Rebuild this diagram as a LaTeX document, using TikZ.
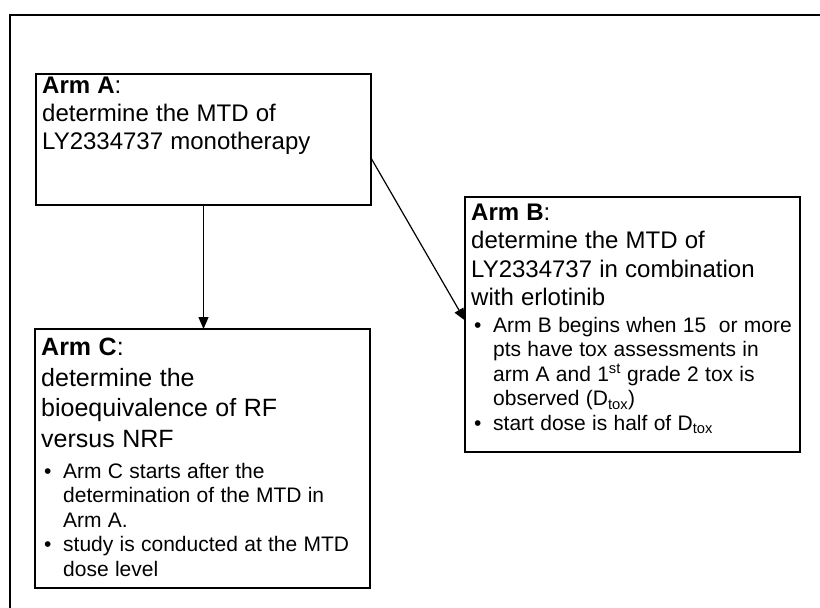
\documentclass[tikz,border=0pt]{standalone}
\usepackage{fontspec}
\setmainfont{Liberation Sans}
\usetikzlibrary{arrows.meta}

\newcommand{\headsize}{\fontsize{24}{28.3}\selectfont\spaceskip=0.3em plus 0.1em\relax}
\newcommand{\headCsize}{\fontsize{25}{30.5}\selectfont\spaceskip=0.3em plus 0.1em\relax}
\newcommand{\bulletsize}{\fontsize{21}{24.5}\selectfont\spaceskip=0.3em plus 0.1em\relax}
% bullet with hanging indent, lines broken by \newline
\newcommand{\armitem}[1]{\par\hangindent=22pt\hangafter=1\noindent\makebox[22pt][l]{\hspace{3pt}\textbullet}#1\par}

\tikzset{
  armbox/.style={draw, line width=1.6pt, inner sep=0pt, outer sep=0pt, anchor=north west},
  armtext/.style={anchor=north west, inner sep=0pt, text width=330pt, align=left},
  armarrow/.style={line width=1.2pt, -{Triangle[length=12pt,width=10pt]}}
}

\begin{document}
\begin{tikzpicture}[x=1pt,y=-1pt]

		\fill[white] (0,0) rectangle (820,608);
		\useasboundingbox (0,0) rectangle (820,608);
		\draw[line width=1.8pt] (10,608) -- (10,15) -- (820,15);

		\node[armbox, minimum width=335pt, minimum height=131pt] (armA) at (36,74) {};
		\node[armtext] (armAtext) at ([xshift=6pt,yshift=-2.5pt]armA.north west)
			{\headsize\textbf{Arm A}:\\determine the MTD of\\LY2334737 monotherapy\par};

		\node[armbox, minimum width=335pt, minimum height=255pt] (armB) at (465,197) {};
		\node[armtext] (armBtext) at ([xshift=6pt,yshift=-6.8pt]armB.north west)
			{\headsize\textbf{Arm B}:\\determine the MTD of\\LY2334737 in combination\\with erlotinib\par
			\bulletsize\vspace{2.5pt}
			\armitem{Arm B begins when 15~ or more\newline pts have tox assessments in\newline arm A and 1\textsuperscript{st} grade 2 tox is\newline observed (D\textsubscript{tox})}
			\armitem{start dose is half of D\textsubscript{tox}}};

		\node[armbox, minimum width=335pt, minimum height=259pt] (armC) at (35,329) {};
		\node[armtext] (armCtext) at ([xshift=6pt,yshift=-9.1pt]armC.north west)
			{\headCsize\textbf{Arm C}:\\determine the\\bioequivalence of RF\\versus NRF\par
			\bulletsize\vspace{6.5pt}
			\armitem{Arm C starts after the\newline determination of the MTD in\newline Arm A.}
			\armitem{study is conducted at the MTD\newline dose level}};

		\draw[armarrow] (armA.south) -- (armA.south |- armC.north);
		\draw[armarrow] ([yshift=-18.5pt]armA.east) -- ([yshift=4pt]armB.west);

	\end{tikzpicture}
\end{document}
